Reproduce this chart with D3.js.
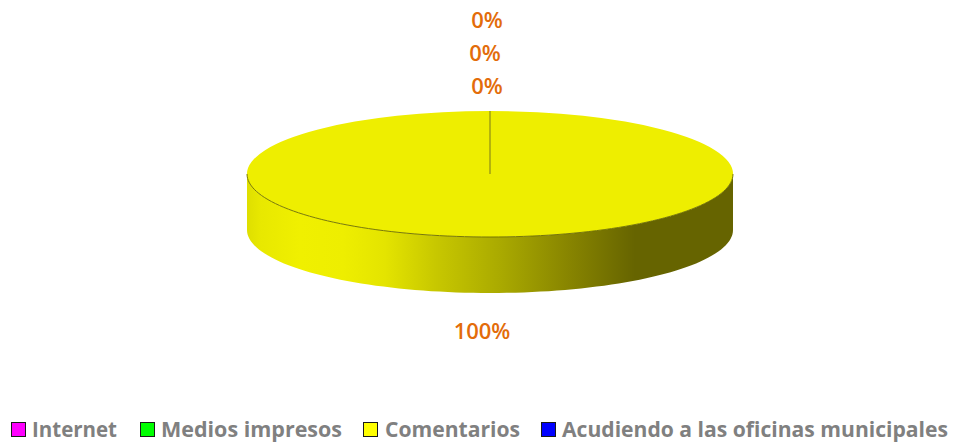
<!DOCTYPE html>
<html><head><meta charset="utf-8">
<script src="https://cdn.jsdelivr.net/npm/d3@7"></script>
<style>html,body{margin:0;padding:0;background:#fff}svg{display:block}</style>
</head><body><svg id="c" width="954" height="443"></svg>
<script>
(function(){
const categories = ["Internet","Medios impresos","Comentarios","Acudiendo a las oficinas municipales"];
const values = [0,0,100,0];
const percentLabels = ["0%","0%","100%","0%"];
const swatchColors = ["#ff00ff","#00ff00","#ffff00","#0000ff"];

const cx=490,cy=174,rx=243,ry=63,depth=56;
const svg=d3.select("#c");
const defs=svg.append("defs");
const grad=defs.append("linearGradient").attr("id","side").attr("gradientUnits","userSpaceOnUse")
  .attr("x1",cx-rx-1).attr("x2",cx+rx+1).attr("y1",0).attr("y2",0);
[[0,"#dede00"],[0.03,"#e8e800"],[0.11,"#f0f000"],[0.2,"#eeee00"],[0.285,"#e4e400"],[0.387,"#c8c800"],[0.52,"#aaaa00"],[0.66,"#888500"],[0.797,"#666400"],[1,"#666400"]]
 .forEach(([o,c])=>grad.append("stop").attr("offset",o).attr("stop-color",c));

const pieData=d3.pie().sort(null).startAngle(0).endAngle(2*Math.PI)(values);
const yScale=d3.scaleLinear().domain([0,1]).range([0,ry/rx]);
const arc=d3.arc().innerRadius(0).outerRadius(rx);
const pieG=svg.append("g");

const a=d3.range(0,181,2).map(d=>d*Math.PI/180);
const px=t=>cx+rx*Math.cos(t), py=t=>cy+ry*Math.sin(t);
const wall=d3.path();
wall.moveTo(px(0),py(0));
a.forEach(t=>wall.lineTo(px(t),py(t)));
[...a].reverse().forEach(t=>wall.lineTo(px(t),py(t)+depth));
wall.closePath();
pieG.append("path").attr("d",wall.toString()).attr("fill","url(#side)");

const face=pieG.append("g").attr("transform",`translate(${cx},${cy}) scale(1,${yScale(1)})`);
face.selectAll("path").data(pieData).join("path").attr("d",arc)
  .attr("fill","#eeee00").attr("stroke","none");
const rim=d3.path();
rim.moveTo(px(0),py(0)); a.forEach(t=>rim.lineTo(px(t),py(t)));
pieG.append("path").attr("d",rim.toString()).attr("fill","none").attr("stroke","#6b6b00").attr("stroke-width",0.9);
const divider=d3.path(); divider.moveTo(cx,cy); divider.lineTo(cx,cy-ry);
pieG.append("path").attr("d",divider.toString()).attr("stroke","#7a7a18").attr("stroke-width",1).attr("fill","none");

const labelPos=[[487,20],[485,53],[482,331],[487,86]];
svg.selectAll("text.pct").data(percentLabels).join("text").attr("class","pct")
  .attr("x",(d,i)=>labelPos[i][0]).attr("y",(d,i)=>labelPos[i][1]).attr("dy","0.36em")
  .attr("text-anchor","middle").attr("font-family","'Open Sans','Noto Sans',sans-serif")
  .attr("font-size",22).attr("font-weight",600).attr("fill","#e36c0a").text(d=>d);

const swX=[11,140,363,541], txX=[32,161,385,562], txW=[85,181,135,386];
const lg=svg.selectAll("g.l").data(categories).join("g").attr("class","l");
lg.append("rect").attr("x",(d,i)=>swX[i]+.5).attr("y",422.5).attr("width",14).attr("height",14)
  .attr("fill",(d,i)=>swatchColors[i]).attr("stroke","#1a1a1a").attr("stroke-width",1);
lg.append("text").attr("x",(d,i)=>txX[i]).attr("y",437)
  .attr("font-family","'Open Sans','Noto Sans',sans-serif").attr("font-size",21.5).attr("font-weight",700)
  .attr("fill","#808080").attr("textLength",(d,i)=>txW[i]).attr("lengthAdjust","spacingAndGlyphs").text(d=>d);
})();
</script></body></html>
